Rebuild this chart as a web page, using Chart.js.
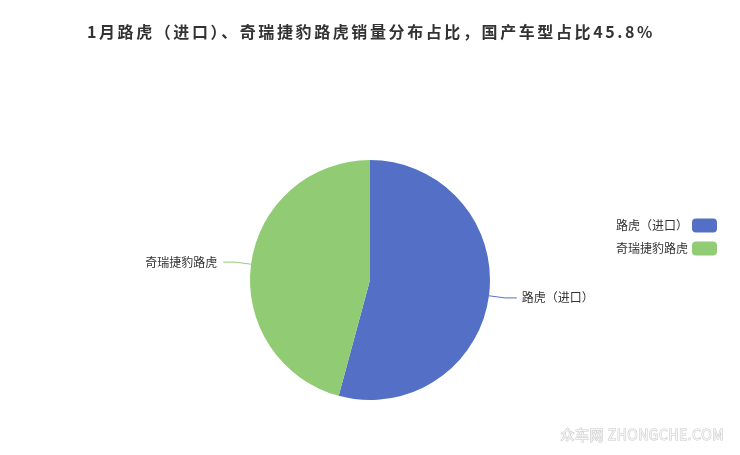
<!DOCTYPE html>
<html>
<head>
<meta charset="utf-8">
<script src="https://cdn.jsdelivr.net/npm/chart.js@4.4.0/dist/chart.umd.min.js"></script>
<style>
html,body{margin:0;padding:0;background:#fff;}
#wrap{width:740px;height:455px;position:relative;}
</style>
</head>
<body>
<div id="wrap"><canvas id="c" width="740" height="455"></canvas></div>
<script>
const titleText = '1月路虎（进口）、奇瑞捷豹路虎销量分布占比，国产车型占比45.8%';
const categories = ['路虎（进口）', '奇瑞捷豹路虎'];
const shareValues = [54.2, 45.8];
const sliceColors = ['#5470c6', '#91cc75'];
const watermarkText = '众车网 ZHONGCHE.COM';

const FONT = '"Noto Sans CJK SC", "Noto Sans", sans-serif';

const decorPlugin = {
  id: 'decor',
  afterDraw(chart) {
    const ctx = chart.ctx;
    const meta = chart.getDatasetMeta(0);
    // title
    ctx.save();
    ctx.font = 'bold 16px ' + FONT;
    ctx.fillStyle = '#333';
    ctx.textAlign = 'center';
    ctx.textBaseline = 'middle';
    ctx.letterSpacing = '2.6px';
    ctx.fillText(titleText, 371, 32);
    ctx.restore();

    // slice labels with leader lines
    meta.data.forEach((arc, i) => {
      const p = arc.getProps(['x', 'y', 'startAngle', 'endAngle', 'outerRadius'], true);
      const mid = (p.startAngle + p.endAngle) / 2;
      const r = p.outerRadius;
      const cos = Math.cos(mid), sin = Math.sin(mid);
      const x0 = p.x + cos * r, y0 = p.y + sin * r;
      const x1 = p.x + cos * (r + 16), y1 = p.y + sin * (r + 16);
      const right = cos >= 0;
      const x2 = x1 + (right ? 12 : -12);
      ctx.save();
      ctx.strokeStyle = sliceColors[i];
      ctx.lineWidth = 1;
      ctx.beginPath();
      ctx.moveTo(x0, y0);
      ctx.lineTo(x1, y1);
      ctx.lineTo(x2, y1);
      ctx.stroke();
      ctx.font = '12px ' + FONT;
      ctx.fillStyle = '#333';
      ctx.textBaseline = 'middle';
      ctx.textAlign = right ? 'left' : 'right';
      ctx.fillText(chart.data.labels[i], x2 + (right ? 5 : -6), y1);
      ctx.restore();
    });

    // legend (text then swatch)
    chart.data.labels.forEach((lab, i) => {
      const cy = 225.5 + i * 23;
      ctx.save();
      ctx.fillStyle = sliceColors[i];
      ctx.beginPath();
      ctx.roundRect(692, cy - 7, 25, 14, 4);
      ctx.fill();
      ctx.font = '12px ' + FONT;
      ctx.fillStyle = '#333';
      ctx.textAlign = 'right';
      ctx.textBaseline = 'middle';
      ctx.fillText(lab, 688, cy);
      ctx.restore();
    });

    // watermark
    ctx.save();
    ctx.font = '14px ' + FONT;
    ctx.textAlign = 'right';
    ctx.textBaseline = 'middle';
    ctx.letterSpacing = '0.5px';
    ctx.lineWidth = 1;
    ctx.strokeStyle = '#c8c8c8';
    ctx.fillStyle = '#f6f6f6';
    ctx.strokeText(watermarkText, 724, 435);
    ctx.fillText(watermarkText, 724, 435);
    ctx.restore();
  }
};

new Chart(document.getElementById('c'), {
  type: 'pie',
  data: {
    labels: categories,
    datasets: [{
      data: shareValues,
      backgroundColor: sliceColors,
      borderWidth: 0,
      hoverOffset: 0
    }]
  },
  options: {
    responsive: false,
    animation: false,
    layout: { padding: { top: 160, bottom: 55, left: 250, right: 250 } },
    plugins: {
      legend: { display: false },
      title: { display: false },
      tooltip: { enabled: false }
    }
  },
  plugins: [decorPlugin]
});
</script>
</body>
</html>
